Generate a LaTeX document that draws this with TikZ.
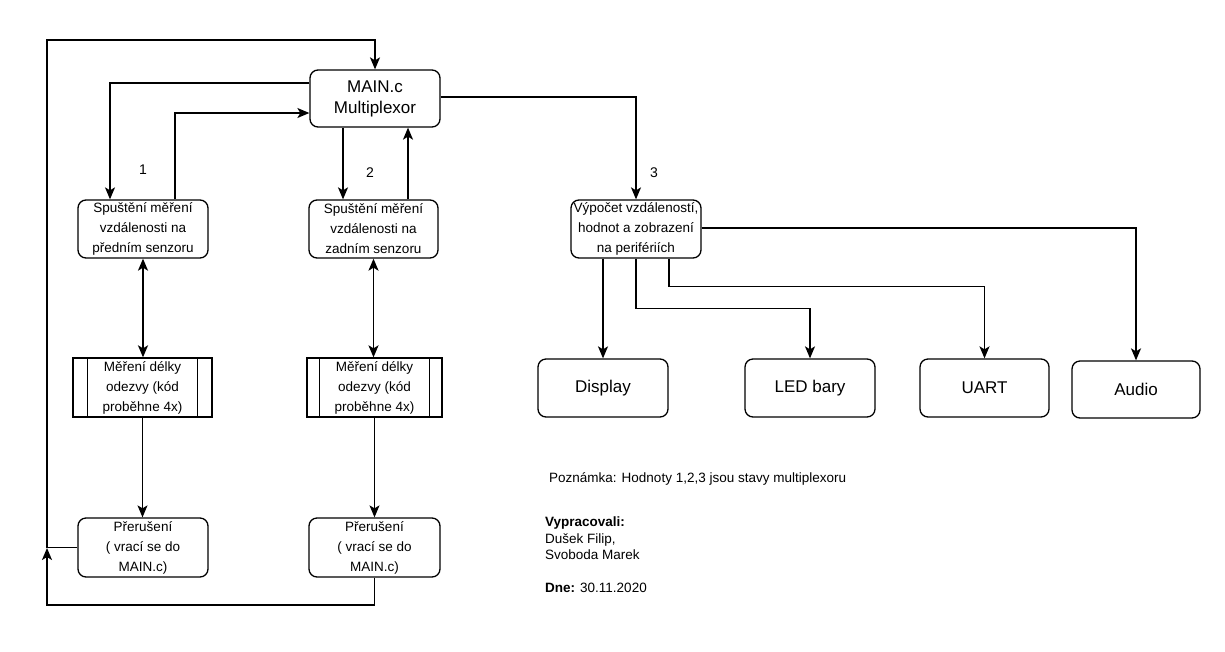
\documentclass[tikz,border=0pt]{standalone}
\usepackage{fontspec}
\setmainfont{Liberation Sans}
\usetikzlibrary{arrows.meta}
\tikzset{
  box/.style={draw, line width=1.3pt, rounded corners=8pt, align=center, inner sep=0pt},
  sub/.style={draw, line width=1.3pt, align=center, inner sep=0pt},
  tipA/.tip={Stealth[length=12pt,width=10pt,inset=3pt]},
  arr/.style={line width=1.4pt, -tipA},
  darr/.style={line width=1.8pt, tipA-tipA},
  thinarr/.style={line width=1.1pt, -tipA},
  ln/.style={line width=1.3pt},
  f13/.style={font=\fontsize{13.5}{20}\selectfont},
  f17/.style={font=\fontsize{17}{21}\selectfont},
  num/.style={font=\fontsize{14}{16}\selectfont},
  note/.style={font=\fontsize{13.5}{16.5}\selectfont, align=left, inner sep=0pt}
}
\begin{document}
\begin{tikzpicture}[x=1pt,y=-1pt]
\useasboundingbox[fill=white] (0,0) rectangle (1225,651);

% nodes
\node[box,f17,minimum width=130pt,minimum height=57pt] (main) at (375,98.5) {MAIN.c\\Multiplexor};
\node[box,f13,minimum width=130pt,minimum height=58pt] (s1) at (143,229) {Spuštění měření\\vzdálenosti na\\předním senzoru};
\node[box,f13,minimum width=129pt,minimum height=58pt] (s2) at (373.5,229) {Spuštění měření\\vzdálenosti na\\zadním senzoru};
\node[sub,f13,minimum width=139pt,minimum height=59pt] (m1) at (142.5,387.5) {Měření délky\\odezvy (kód\\proběhne 4x)};
\node[sub,f13,minimum width=135pt,minimum height=59pt] (m2) at (374.5,387.5) {Měření délky\\odezvy (kód\\proběhne 4x)};
\draw[ln] ([xshift=15pt]m1.north west) -- ([xshift=15pt]m1.south west);
\draw[ln] ([xshift=-15pt]m1.north east) -- ([xshift=-15pt]m1.south east);
\draw[ln] ([xshift=13pt]m2.north west) -- ([xshift=13pt]m2.south west);
\draw[ln] ([xshift=-13pt]m2.north east) -- ([xshift=-13pt]m2.south east);
\node[box,f13,minimum width=130pt,minimum height=59pt] (p1) at (143,547.5) {Přerušení\\( vrací se do\\MAIN.c)};
\node[box,f13,minimum width=131pt,minimum height=59pt] (p2) at (374.5,547.5) {Přerušení\\( vrací se do\\MAIN.c)};

\node[box,f13,minimum width=130pt,minimum height=58pt] (calc) at (636,229) {Výpočet vzdáleností,\\hodnot a zobrazení\\na perifériích};
\node[box,f17,minimum width=130pt,minimum height=58pt] (disp) at (603,388) {Display};
\node[box,f17,minimum width=130pt,minimum height=58pt] (led) at (810,388) {LED bary};
\node[box,f17,minimum width=129pt,minimum height=58pt] (uart) at (984.5,388) {UART};
\node[box,f17,minimum width=128pt,minimum height=57pt] (audio) at (1136,389.5) {Audio};

% state labels
\node[num] (n1) at (143,170) {1};
\node[num] (n2) at (370,173) {2};
\node[num] (n3) at (654,173) {3};

% loop coordinates
\coordinate (tl) at (47,40);
\coordinate (bl) at (47,605);
\coordinate (tip) at (47,548);

% connectors
\draw[arr] ([yshift=15.5pt]main.west) -| ([xshift=-33pt]s1.north);
\draw[arr] ([xshift=32pt]s1.north) |- ([yshift=-14.5pt]main.west);
\draw[arr] ([xshift=-32pt]main.south) -- ([xshift=-32pt]main.south |- s2.north);
\draw[arr] ([xshift=34.5pt]s2.north) -- ([xshift=34.5pt]s2.north |- main.south);
\draw[arr] ([yshift=1.5pt]main.east) -| (calc.north);

\draw[darr] (s1.south) -- (s1.south |- m1.north);
\draw[darr] (s2.south) -- (s2.south |- m2.north);
\draw[thinarr] (m1.south) -- (m1.south |- p1.north);
\draw[thinarr] (m2.south) -- (m2.south |- p2.north);

\draw[arr] (p2.south) -- (p2.south |- bl) -- (bl) -- (tip);
\draw[arr] (p1.west) -- (p1.west -| tl) -- (tl) -- (tl -| main.north) -- (main.north);

\draw[arr] ([xshift=-33pt]calc.south) -- (disp.north);
\draw[arr] (calc.south) -- ++(0,50) -| (led.north);
\draw[arr] ([xshift=33pt]calc.south) -- ++(0,28) -| (uart.north);
\draw[arr] ([yshift=1pt]calc.east) -| (audio.north);

% notes
\node[note,anchor=west] (poz) at (549,479) {Poznámka: Hodnoty 1,2,3 jsou stavy multiplexoru};
\node[note,anchor=north west] (auth) at (545,517) {\textbf{Vypracovali:}\\Dušek Filip,\\Svoboda Marek\\[16.5pt]\textbf{Dne:} 30.11.2020};
\end{tikzpicture}
\end{document}
